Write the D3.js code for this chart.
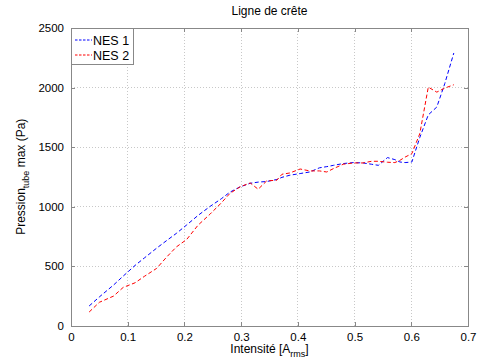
<!DOCTYPE html>
<html><head><meta charset="utf-8">
<script src="https://cdn.jsdelivr.net/npm/d3@7"></script>
<style>body{margin:0;background:#fff}svg{display:block;font-family:"Liberation Sans",Arial,sans-serif}</style>
</head><body><svg id="c" width="478" height="362"></svg>
<script>
const intensite = [0.032,0.05,0.075,0.092,0.113,0.13,0.151,0.169,0.186,0.204,0.224,0.245,0.265,0.28,0.298,0.316,0.33,0.345,0.363,0.372,0.386,0.404,0.421,0.438,0.451,0.463,0.48,0.498,0.515,0.53,0.542,0.558,0.571,0.58,0.589,0.601,0.615,0.63,0.645,0.659,0.675];
const nes1 = [164,240,340,415,505,570,650,715,775,845,925,1000,1065,1120,1165,1195,1205,1210,1227,1245,1263,1277,1290,1325,1335,1346,1361,1369,1366,1355,1346,1411,1394,1374,1369,1374,1580,1770,1836,2032,2290];
const nes2 = [113,195,247,320,359,415,480,577,661,723,843,935,1030,1109,1165,1198,1145,1215,1221,1271,1282,1315,1299,1299,1290,1319,1355,1366,1366,1380,1380,1372,1369,1388,1415,1444,1612,2003,1961,1995,2023];
const xTicks = [0,0.1,0.2,0.3,0.4,0.5,0.6,0.7];
const yTicks = [0,500,1000,1500,2000,2500];
const seriesNames = ["NES 1","NES 2"];
const seriesColors = ["#0000ff","#ff0000"];

const svg = d3.select("#c");
const L=71,R=468,T=28,B=325.5;
const x = d3.scaleLinear().domain([0,0.7]).range([L,R]);
const y = d3.scaleLinear().domain([0,2500]).range([B,T]);
const gray="#888";

// grid
const g = svg.append("g");
g.selectAll(".gx").data(xTicks.slice(1,-1)).enter().append("line")
 .attr("x1",d=>x(d)).attr("x2",d=>x(d)).attr("y1",T).attr("y2",B)
 .attr("stroke","#c8c8c8").attr("stroke-dasharray","1,2").attr("shape-rendering","crispEdges");
g.selectAll(".gy").data(yTicks.slice(1,-1)).enter().append("line")
 .attr("y1",d=>y(d)).attr("y2",d=>y(d)).attr("x1",L).attr("x2",R)
 .attr("stroke","#c8c8c8").attr("stroke-dasharray","1,2").attr("shape-rendering","crispEdges");

// axes
const xa = svg.append("g").attr("transform",`translate(0,${B})`)
 .call(d3.axisBottom(x).tickValues(xTicks).tickSize(-4).tickPadding(7).tickFormat(d3.format("")));
const ya = svg.append("g").attr("transform",`translate(${L},0)`)
 .call(d3.axisLeft(y).tickValues(yTicks).tickSize(-4).tickPadding(7).tickFormat(d3.format("")));
svg.append("g").attr("transform",`translate(0,${T})`)
 .call(d3.axisTop(x).tickValues(xTicks).tickSize(-4).tickFormat(""));
svg.append("g").attr("transform",`translate(${R},0)`)
 .call(d3.axisRight(y).tickValues(yTicks).tickSize(-4).tickFormat(""));
svg.selectAll(".domain").attr("stroke",gray).attr("shape-rendering","crispEdges");
svg.selectAll(".tick line").attr("stroke",gray).attr("shape-rendering","crispEdges");
svg.selectAll(".tick text").attr("font-size",11.5).attr("fill","#000").attr("font-family","Liberation Sans, Arial, sans-serif");

// lines
const series=[nes1,nes2];
const line = d3.line().x((d,i)=>x(intensite[i])).y(d=>y(d));
series.forEach((s,k)=>{
 svg.append("path").datum(s).attr("d",line).attr("fill","none")
  .attr("stroke",seriesColors[k]).attr("stroke-width",1).attr("stroke-dasharray","4,2.5");
});

// legend
const lg = svg.append("g");
lg.append("rect").attr("x",L+0.5).attr("y",T+0.5).attr("width",62).attr("height",36)
 .attr("fill","#fff").attr("stroke",gray);
seriesNames.forEach((n,k)=>{
 const yy = T+12+k*15;
 lg.append("line").attr("x1",L+4).attr("x2",L+21).attr("y1",yy).attr("y2",yy)
  .attr("stroke",seriesColors[k]).attr("stroke-dasharray","2.5,1.5");
 lg.append("text").attr("x",L+22).attr("y",yy+4.5).attr("font-size",12.5).text(n);
});

// title & labels
svg.append("text").attr("x",(L+R)/2).attr("y",15).attr("text-anchor","middle").attr("font-size",12).text("Ligne de crête");
const xl = svg.append("text").attr("x",(L+R)/2).attr("y",353).attr("text-anchor","middle").attr("font-size",12);
xl.append("tspan").text("Intensité [A");
xl.append("tspan").attr("font-size",9).attr("dy",4).text("rms");
xl.append("tspan").attr("dy",-4).text("]");
const yl = svg.append("text").attr("transform",`translate(25,${(T+B)/2}) rotate(-90)`).attr("text-anchor","middle").attr("font-size",12);
yl.append("tspan").text("Pression");
yl.append("tspan").attr("font-size",9).attr("dy",4).text("tube");
yl.append("tspan").attr("dy",-4).text(" max (Pa)");
</script></body></html>
